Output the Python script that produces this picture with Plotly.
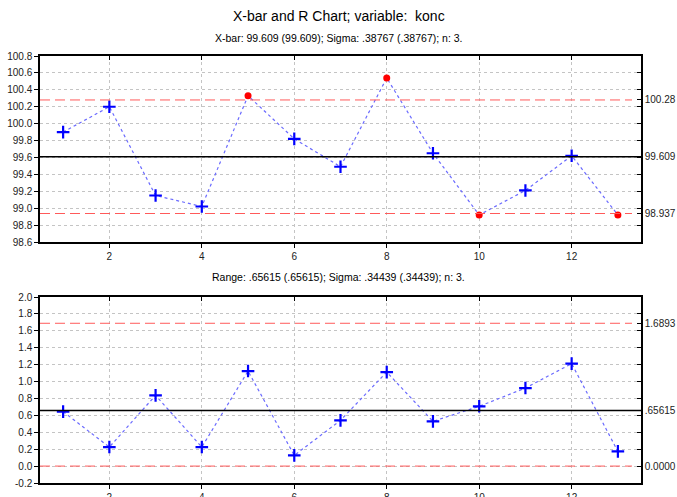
import plotly.graph_objects as go

samples = list(range(1, 14))
xbar = [99.90, 100.20, 99.15, 99.02, 100.33, 99.82, 99.49, 100.54, 99.65, 98.92, 99.21, 99.62, 98.92]
rng = [0.644, 0.225, 0.837, 0.225, 1.124, 0.127, 0.541, 1.112, 0.529, 0.707, 0.923, 1.212, 0.174]

xbar_limits = {"ucl": 100.28, "center": 99.609, "lcl": 98.937}
xbar_labels = ["100.28", "99.609", "98.937"]
r_limits = {"ucl": 1.6893, "center": 0.65615, "lcl": 0.0}
r_labels = ["1.6893", ".65615", "0.0000"]

xbar_ticks = [round(98.6 + 0.2 * i, 1) for i in range(12)]
r_ticks = [round(-0.2 + 0.2 * i, 1) for i in range(12)]
x_ticks = [2, 4, 6, 8, 10, 12]

title = "X-bar and R Chart; variable:  konc"
sub1 = "X-bar: 99.609 (99.609); Sigma: .38767 (.38767); n: 3."
sub2 = "Range: .65615 (.65615); Sigma: .34439 (.34439); n: 3."

W, H = 677, 497
FONT = "Liberation Sans, Arial"
px = lambda p: p / W
py = lambda p: 1 - p / H

xdom = [px(40), px(641)]
top_dom = [py(242), py(56)]
bot_dom = [py(483), py(297)]

fig = go.Figure()


def ref(name, letter):
    return letter if name.endswith("axis") else letter + name[5:]


def add_panel(vals, lims, lab, ticks, yr, xa, xa_top, ya, ya_r, dom):
    ya_ref, xa_ref = ref(ya, "y"), ref(xa, "x")
    xt_ref, yr_ref = ref(xa_top, "x"), ref(ya_r, "y")
    # invisible trace so the overlay axes (top and right) are drawn with labels
    fig.add_trace(go.Scatter(x=samples, y=vals, mode="lines", line=dict(width=0),
                             opacity=0, hoverinfo="skip",
                             xaxis=xt_ref, yaxis=yr_ref, showlegend=False))
    fig.add_trace(go.Scatter(x=samples, y=vals, mode="lines",
                             line=dict(color="#6a6aff", width=1.2, dash="dot"),
                             xaxis=xa_ref, yaxis=ya_ref, showlegend=False))
    ok = [lims["lcl"] <= v <= lims["ucl"] for v in vals]
    inx = [s for s, k in zip(samples, ok) if k]
    iny = [v for v, k in zip(vals, ok) if k]
    outx = [s for s, k in zip(samples, ok) if not k]
    outy = [v for v, k in zip(vals, ok) if not k]
    fig.add_trace(go.Scatter(x=inx, y=iny, mode="markers",
                             marker=dict(symbol="cross-thin", size=9, line=dict(color="#0000ff", width=2.2)),
                             xaxis=xa_ref, yaxis=ya_ref, showlegend=False))
    fig.add_trace(go.Scatter(x=outx, y=outy, mode="markers",
                             marker=dict(symbol="circle", size=7, color="#ff0000"),
                             xaxis=xa_ref, yaxis=ya_ref, showlegend=False))
    for key in ["ucl", "lcl"]:
        fig.add_shape(type="line", xref=xa_ref + " domain", yref=ya_ref, x0=0, x1=0.985,
                      y0=lims[key], y1=lims[key],
                      line=dict(color="#ff5a5a", width=1, dash="10px,5px"))
    fig.add_shape(type="line", xref=xa_ref + " domain", yref=ya_ref, x0=0, x1=1,
                  y0=lims["center"], y1=lims["center"],
                  line=dict(color="black", width=1.5))
    axfont = dict(family=FONT, size=10, color="#222")
    fig.layout[xa] = dict(domain=xdom, range=[0.5, 13.5], tickvals=x_ticks,
                          ticks="outside", ticklen=4, tickcolor="black",
                          showline=True, linecolor="black", linewidth=1.5,
                          showgrid=True, gridcolor="#c4c4c4", griddash="dot", gridwidth=1,
                          zeroline=False, tickfont=axfont, anchor=ya_ref, automargin=False)
    fig.layout[xa_top] = dict(domain=xdom, overlaying=xa_ref, side="top", range=[0.5, 13.5],
                              tickvals=x_ticks, ticks="inside", ticklen=4, tickcolor="black",
                              showticklabels=False, showline=True, linecolor="black", linewidth=1.5,
                              showgrid=False, zeroline=False, anchor=yr_ref, automargin=False)
    fig.layout[ya] = dict(domain=dom, range=yr, tickvals=ticks, ticktext=[f"{t:.1f}" for t in ticks],
                          ticks="outside", ticklen=4, tickcolor="black",
                          showline=True, linecolor="black", linewidth=1.5,
                          showgrid=True, gridcolor="#c4c4c4", griddash="dot", gridwidth=1,
                          zeroline=False, tickfont=axfont, anchor=xa_ref, automargin=False)
    lim_vals = [lims["ucl"], lims["center"], lims["lcl"]]
    grid_only = [t for t in ticks if all(abs(t - v) > 1e-9 for v in lim_vals)]
    rv = grid_only + lim_vals
    rt = [""] * len(grid_only) + lab
    fig.layout[ya_r] = dict(domain=dom, overlaying=ya_ref, side="right", range=yr,
                            tickvals=rv, ticktext=rt, ticks="inside", ticklen=4, tickcolor="black",
                            showline=True, linecolor="black", linewidth=1.5, showgrid=False,
                            zeroline=False, tickfont=axfont, anchor=xt_ref, automargin=False)


add_panel(xbar, xbar_limits, xbar_labels, xbar_ticks, [98.6, 100.8],
          "xaxis", "xaxis3", "yaxis", "yaxis3", top_dom)
add_panel(rng, r_limits, r_labels, r_ticks, [-0.2, 2.0],
          "xaxis2", "xaxis4", "yaxis2", "yaxis4", bot_dom)

fig.add_annotation(text=title, x=0.5, y=py(16), xref="paper", yref="paper", showarrow=False,
                   font=dict(family=FONT, size=14, color="black"), yanchor="middle")
fig.add_annotation(text=sub1, x=0.5, y=py(38), xref="paper", yref="paper", showarrow=False,
                   font=dict(family=FONT, size=10.5, color="black"), yanchor="middle")
fig.add_annotation(text=sub2, x=0.5, y=py(277), xref="paper", yref="paper", showarrow=False,
                   font=dict(family=FONT, size=10.5, color="black"), yanchor="middle")

fig.update_layout(width=W, height=H, margin=dict(l=0, r=0, t=0, b=0),
                  paper_bgcolor="white", plot_bgcolor="white", showlegend=False)

fig.write_html("out.html")
